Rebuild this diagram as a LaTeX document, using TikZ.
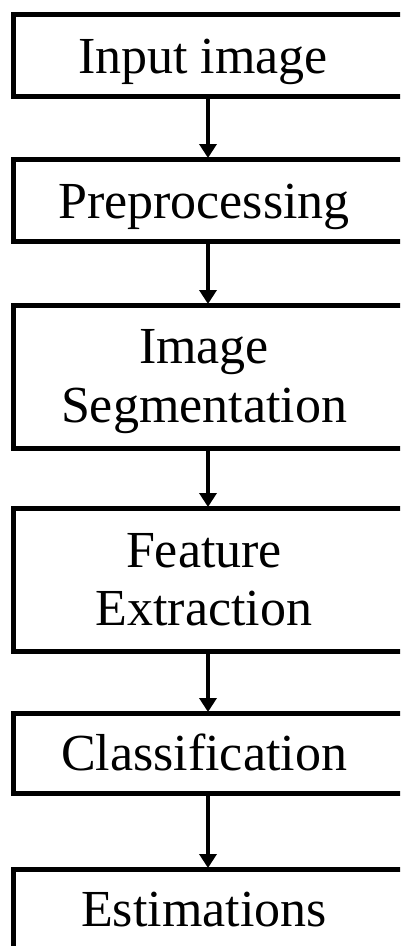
\documentclass[tikz,border=0pt]{standalone}
\usepackage{fontspec}
\setmainfont{Liberation Serif}
\usetikzlibrary{arrows.meta}
\begin{document}
\begin{tikzpicture}[x=1pt,y=-1pt,
  box/.style={draw=black,line width=5pt,rectangle,minimum width=400pt,inner sep=0pt,fill=white},
  lbl/.style={inner sep=0pt,anchor=base,font=\fontsize{52}{60}\selectfont},
  flow/.style={line width=4.5pt,-{Triangle[width=17pt,length=14pt]},shorten >=-1pt}]
\useasboundingbox (0,0) rectangle (400,946);
\clip (0,0) rectangle (400,946);
\fill[white] (0,0) rectangle (400,946);
\coordinate (ax) at (208,0);
\node[box,minimum height=82pt] (b1) at (213.5,55.5) {};
\node[box,minimum height=82pt] (b2) at (213.5,200.5) {};
\node[box,minimum height=143pt] (b3) at (213.5,377) {};
\node[box,minimum height=143pt] (b4) at (213.5,580) {};
\node[box,minimum height=80pt] (b5) at (213.5,753.5) {};
\node[box,minimum height=140pt] (b6) at (213.5,939.5) {};
\node[lbl] (t1) at (203,73) {Input image};
\node[lbl] (t2) at (204,218) {Preprocessing};
\node[lbl] (t3a) at (204,363) {Image};
\node[lbl] (t3b) at (204,422) {Segmentation};
\node[lbl] (t4a) at (204,567) {Feature};
\node[lbl] (t4b) at (204,625) {Extraction};
\node[lbl] (t5) at (204,770) {Classification};
\node[lbl] (t6) at (204,926) {Estimations};
\draw[flow] (b1.south -| ax) -- (b2.north -| ax);
\draw[flow] (b2.south -| ax) -- (b3.north -| ax);
\draw[flow] (b3.south -| ax) -- (b4.north -| ax);
\draw[flow] (b4.south -| ax) -- (b5.north -| ax);
\draw[flow] (b5.south -| ax) -- (b6.north -| ax);
\end{tikzpicture}
\end{document}
